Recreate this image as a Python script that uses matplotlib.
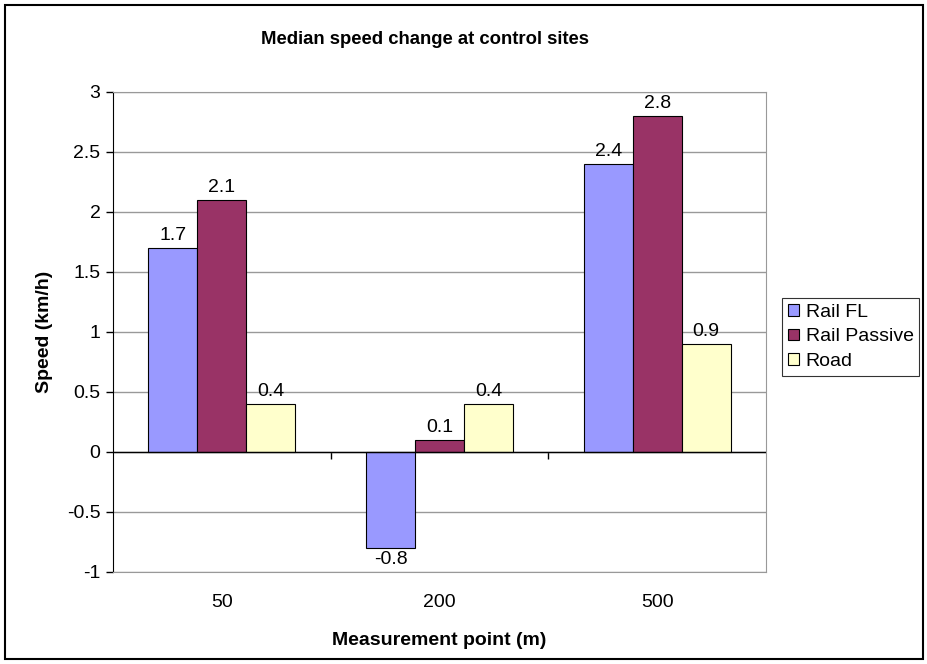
import matplotlib
matplotlib.use("Agg")
from matplotlib import pyplot as plt
from matplotlib.patches import Rectangle
import numpy as np

plt.rcParams['font.family'] = ['Liberation Sans', 'DejaVu Sans']

# data
points = ["50", "200", "500"]
series = ["Rail FL", "Rail Passive", "Road"]
rail_fl = [1.7, -0.8, 2.4]
rail_passive = [2.1, 0.1, 2.8]
road = [0.4, 0.4, 0.9]
colors = ["#9999FF", "#993366", "#FFFFCC"]

fs = 14

fig = plt.figure(figsize=(9.28, 6.64), dpi=100)
ax = fig.add_axes([113/928, 1-572/664, (766-113)/928, (572-92)/664])

# outer chart frame
fig.patches.append(Rectangle((5/928, 5/664), 918/928, 654/664, transform=fig.transFigure,
                             fill=False, edgecolor="black", linewidth=1.5))

x = np.arange(len(points))
w = 0.225
for i, (vals, name) in enumerate(zip([rail_fl, rail_passive, road], series)):
    pos = x + (i - 1) * w
    ax.bar(pos, vals, w, color=colors[i], edgecolor="black", linewidth=0.8, label=name, zorder=3)
    for px, v in zip(pos, vals):
        if v >= 0:
            ax.annotate(f"{v:g}", (px, v), xytext=(0, 3), textcoords="offset points",
                        ha="center", va="bottom", fontsize=fs)
        else:
            ax.annotate(f"{v:g}", (px, v), xytext=(0, -2), textcoords="offset points",
                        ha="center", va="top", fontsize=fs)

ax.set_xlim(-0.5, 2.5)
ax.set_ylim(-1, 3)
ax.set_yticks(np.arange(-1, 3.01, 0.5))
ax.set_yticklabels([f"{t:g}" for t in np.arange(-1, 3.01, 0.5)])
ax.yaxis.grid(True, color="#999999", linewidth=1, zorder=0)
ax.axhline(0, color="black", linewidth=1, zorder=4)

ax.set_xticks(x)
ax.set_xticklabels(points)
ax.tick_params(axis="x", length=0, pad=16, labelsize=fs)
ax.tick_params(axis="y", direction="out", length=5, width=1, labelsize=fs, pad=4)

for s in ["top", "right", "bottom"]:
    ax.spines[s].set_color("#999999")
ax.spines["left"].set_color("black")

# category tick marks on the zero line
sec = ax.secondary_xaxis(0.25)
sec.set_xticks([0.5, 1.5])
sec.set_xticklabels([])
sec.tick_params(direction="out", length=5, width=1)
sec.spines["bottom"].set_visible(False)

fig.text(425/928, 1-40/664, "Median speed change at control sites", fontsize=13.3,
         fontweight="bold", ha="center", va="center")
ax.set_ylabel("Speed (km/h)", fontsize=fs, fontweight="bold", labelpad=10)
ax.set_xlabel("Measurement point (m)", fontsize=fs, fontweight="bold", labelpad=15)

leg = ax.legend(loc="center left", bbox_to_anchor=(1.025, 0.49), frameon=True, fancybox=False,
                edgecolor="black", fontsize=fs, handlelength=0.55, handleheight=0.55,
                handletextpad=0.35, borderpad=0.3, labelspacing=0.4, borderaxespad=0)
leg.get_frame().set_linewidth(0.8)

fig.savefig("out.png", dpi=100)
